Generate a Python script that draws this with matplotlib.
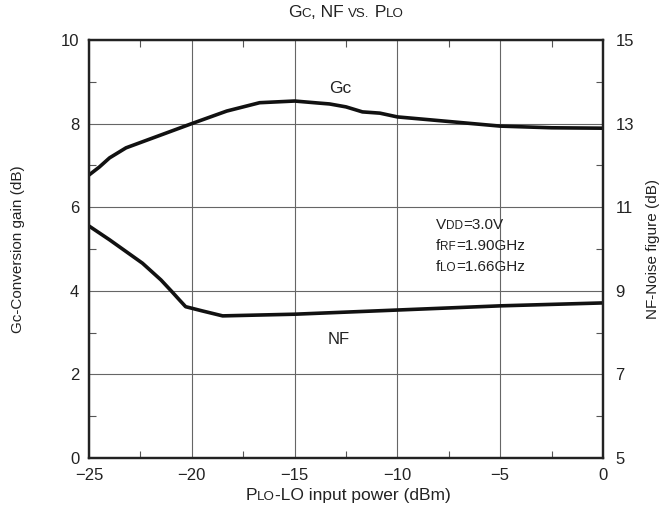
import matplotlib
matplotlib.use("Agg")
import matplotlib.pyplot as plt
from matplotlib.ticker import MultipleLocator
from matplotlib.offsetbox import TextArea, HPacker, AnnotationBbox

plt.rcParams['font.family'] = ['Liberation Sans', 'DejaVu Sans']

# Data
gc_x = [-25, -24.5, -24.0, -23.2, -20, -18.3, -16.7, -15, -13.8, -13.3, -12.5, -11.7, -10.85, -10, -8.4, -5, -2.5, 0]
gc_y = [6.77, 6.96, 7.18, 7.42, 8.0, 8.3, 8.5, 8.54, 8.49, 8.47, 8.40, 8.28, 8.25, 8.16, 8.09, 7.94, 7.90, 7.89]
nf_x = [-25, -24, -22.4, -21.5, -20.95, -20.6, -20.3, -19.5, -18.5, -15, -10, -5, 0]
nf_y = [10.55, 10.22, 9.66, 9.26, 8.97, 8.78, 8.62, 8.52, 8.40, 8.44, 8.54, 8.64, 8.71]
x_ticks = [-25, -20, -15, -10, -5, 0]
left_ticks = [0, 2, 4, 6, 8, 10]
right_ticks = [5, 7, 9, 11, 13, 15]

W, H = 665, 511
fig = plt.figure(figsize=(W / 100, H / 100), dpi=100)
ax = fig.add_axes([89 / W, 1 - 458 / H, (603 - 89) / W, (458 - 40) / H])
ax2 = ax.twinx()

ax.set_xlim(-25, 0)
ax.set_ylim(0, 10)
ax2.set_ylim(5, 15)
ax.set_xticks(x_ticks)
ax.set_yticks(left_ticks)
ax2.set_yticks(right_ticks)
ax.xaxis.set_minor_locator(MultipleLocator(2.5))
ax.yaxis.set_minor_locator(MultipleLocator(1))
ax2.yaxis.set_minor_locator(MultipleLocator(1))
ax.grid(True, which='major', color='#666666', lw=0.8)
ax.tick_params(which='major', length=0, labelsize=12, pad=7, labelcolor='#222222')
ax.tick_params(which='minor', direction='in', length=5, width=0.8, color='#555555', top=True)
ax2.tick_params(which='major', length=0, labelsize=12, pad=9, labelcolor='#222222')
ax2.tick_params(which='minor', direction='in', length=5, width=0.8, color='#555555')
for a in (ax, ax2):
    for s in a.spines.values():
        s.set_linewidth(1.6)
        s.set_color('#222222')

ax.plot(gc_x, gc_y, color='#111111', lw=2.6, solid_capstyle='butt')
ax2.plot(nf_x, nf_y, color='#111111', lw=2.6, solid_capstyle='butt')

ax.set_ylabel('Gc-Conversion gain (dB)', fontsize=11, color='#222222')
ax.yaxis.set_label_coords((25 - 89) / 514, 0.5)
ax2.set_ylabel('NF-Noise figure (dB)', fontsize=11, color='#222222', rotation=90)
ax2.yaxis.set_label_coords((646 - 89) / 514, 0.5)


def mixed(pieces, size, x, y, ha=0.0):
    areas = []
    for txt, small in pieces:
        areas.append(TextArea(txt, textprops=dict(fontsize=size * (0.77 if small else 1.0),
                                                  color='#222222',
                                                  family=['Liberation Sans', 'DejaVu Sans'])))
    box = HPacker(children=areas, align='baseline', pad=0, sep=0)
    ab = AnnotationBbox(box, (x, H - y), xycoords='figure pixels', frameon=False,
                        box_alignment=(ha, 0.0), pad=0)
    fig.add_artist(ab)


# Title
mixed([('G', False), ('C', True), (', NF ', False), ('VS.', True), (' P', False), ('LO', True)],
      12.5, 346, 20, ha=0.5)
# x label
mixed([('P', False), ('LO', True), ('-LO input power (dBm)', False)], 12.5, 348, 503, ha=0.5)
# curve labels
fig.text(329 / W, 1 - 93 / H, 'Gc', fontsize=12.5, color='#222222', va='baseline')
fig.text(328 / W, 1 - 344 / H, 'NF', fontsize=12, color='#222222', va='baseline')
# conditions
mixed([('V', False), ('DD', True), ('=3.0V', False)], 11, 436, 232)
mixed([('f', False), ('RF', True), ('=1.90GHz', False)], 11, 436, 253)
mixed([('f', False), ('LO', True), ('=1.66GHz', False)], 11, 436, 274)

fig.savefig('out.png', dpi=100)
